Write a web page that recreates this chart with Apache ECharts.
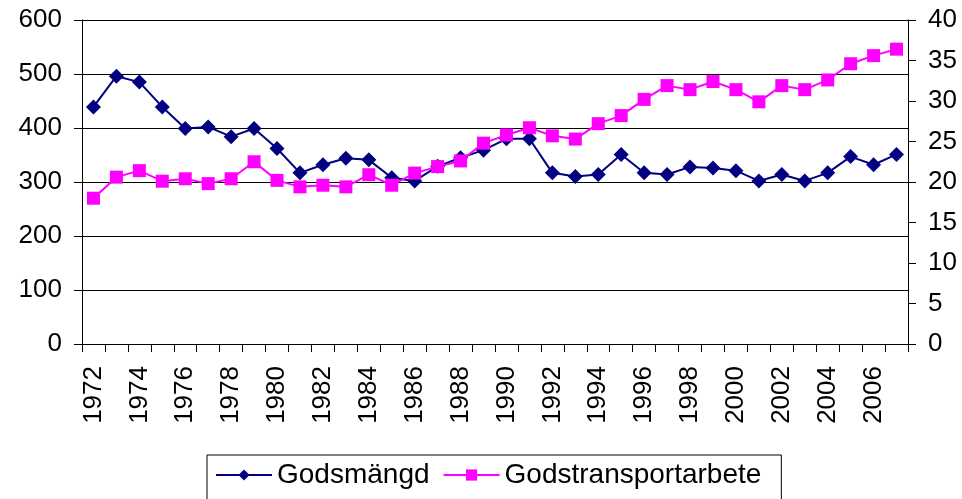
<!DOCTYPE html>
<html>
<head>
<meta charset="utf-8">
<script src="https://cdn.jsdelivr.net/npm/echarts@6/dist/echarts.min.js"></script>
<style>
  html, body { margin: 0; padding: 0; background: #fff; }
  #chart { width: 962px; height: 499px; }
</style>
</head>
<body>
<div id="chart"></div>
<script>
// years 1972..2007
const years = [
  "1972", "1973", "1974", "1975", "1976", "1977", "1978", "1979", "1980", "1981",
  "1982", "1983", "1984", "1985", "1986", "1987", "1988", "1989", "1990", "1991",
  "1992", "1993", "1994", "1995", "1996", "1997", "1998", "1999", "2000", "2001",
  "2002", "2003", "2004", "2005", "2006", "2007"
];
// left axis
const godsmangd = [
  439, 496, 485, 439, 399, 402, 384, 399, 362, 317,
  332, 344, 341, 308, 302, 329, 345, 359, 380, 380,
  317, 310, 314, 351, 317, 314, 328, 326, 321, 302,
  314, 302, 317, 347, 332, 351
];
// right axis
const godstransportarbete = [
  18.0, 20.6, 21.4, 20.1, 20.4, 19.8, 20.4, 22.5, 20.2, 19.4,
  19.6, 19.4, 20.9, 19.6, 21.1, 21.9, 22.6, 24.8, 25.8, 26.7,
  25.7, 25.3, 27.2, 28.2, 30.2, 31.9, 31.4, 32.4, 31.4, 29.9,
  31.9, 31.4, 32.6, 34.6, 35.6, 36.4
];
const leftTicks = { min: 0, max: 600, interval: 100 };
const rightTicks = { min: 0, max: 40, interval: 5 };

const fontFamily = "'Liberation Sans', Arial, sans-serif";
const chart = echarts.init(document.getElementById("chart"));

chart.setOption({
  animation: false,
  backgroundColor: "#fff",
  textStyle: { fontFamily: fontFamily },
  grid: { left: 82, right: 54, top: 20, bottom: 155 },
  legend: {
    top: 455,
    left: 207,
    padding: [6, 20, 12, 8],
    borderColor: "#000",
    borderWidth: 1,
    itemWidth: 56,
    itemHeight: 14,
    itemGap: 13,
    textStyle: { fontSize: 28, color: "#000", fontFamily: fontFamily },
    data: ["Godsmängd", "Godstransportarbete"]
  },
  xAxis: {
    type: "category",
    data: years,
    boundaryGap: true,
    axisLine: { lineStyle: { color: "#000", width: 1 } },
    axisTick: { show: true, length: 8, interval: 0, lineStyle: { color: "#000" } },
    axisLabel: {
      rotate: 90,
      interval: 1,
      margin: 22,
      fontSize: 26,
      color: "#000",
      fontFamily: fontFamily
    }
  },
  yAxis: [
    {
      type: "value",
      min: leftTicks.min,
      max: leftTicks.max,
      interval: leftTicks.interval,
      axisLine: { show: true, lineStyle: { color: "#000" } },
      axisTick: { show: true, length: 8, lineStyle: { color: "#000" } },
      axisLabel: { margin: 20, fontSize: 26, color: "#000", fontFamily: fontFamily },
      splitLine: { show: true, lineStyle: { color: "#000", width: 1 } }
    },
    {
      type: "value",
      position: "right",
      min: rightTicks.min,
      max: rightTicks.max,
      interval: rightTicks.interval,
      axisLine: { show: true, lineStyle: { color: "#000" } },
      axisTick: { show: true, length: 8, lineStyle: { color: "#000" } },
      axisLabel: { margin: 20, fontSize: 26, color: "#000", fontFamily: fontFamily },
      splitLine: { show: false }
    }
  ],
  series: [
    {
      name: "Godsmängd",
      type: "line",
      yAxisIndex: 0,
      data: godsmangd,
      symbol: "diamond",
      symbolSize: 15,
      color: "#000080",
      lineStyle: { color: "#000080", width: 2 },
      itemStyle: { color: "#000080" }
    },
    {
      name: "Godstransportarbete",
      type: "line",
      yAxisIndex: 1,
      data: godstransportarbete,
      symbol: "rect",
      symbolSize: 13,
      color: "#ff00ff",
      lineStyle: { color: "#ff00ff", width: 2 },
      itemStyle: { color: "#ff00ff" }
    }
  ]
});
</script>
</body>
</html>
